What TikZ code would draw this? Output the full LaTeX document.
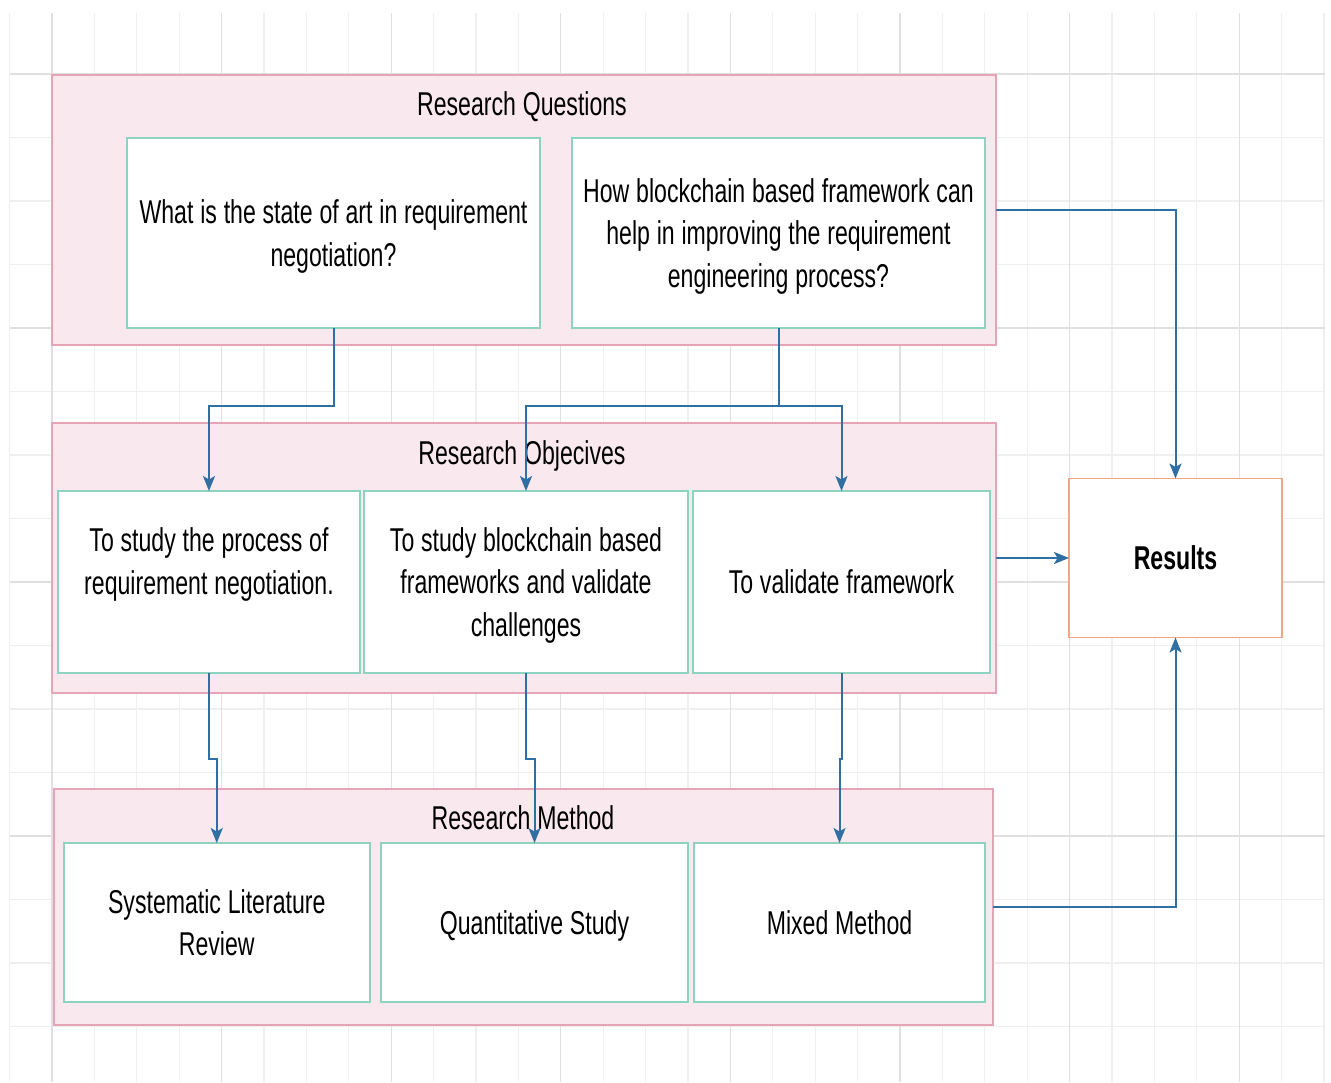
\documentclass[tikz,border=0pt]{standalone}
\usepackage{fontspec}
\setmainfont{Liberation Sans}[FakeStretch=0.70]
\usetikzlibrary{arrows.meta}

\definecolor{gridminor}{HTML}{EFEFEF}
\definecolor{gridmajor}{HTML}{E0E0E0}
\definecolor{groupfill}{HTML}{F9E8EE}
\definecolor{groupline}{HTML}{E6A4B7}
\definecolor{itemline}{HTML}{8DD3BF}
\definecolor{linkblue}{HTML}{2F6FA2}
\definecolor{resultline}{HTML}{F5A582}

\newcommand{\labelfont}{\fontsize{33}{42.5}\selectfont}

\begin{document}
\begin{tikzpicture}[x=1pt,y=-1pt,
  every node/.style={inner sep=0pt, outer sep=0pt},
  group/.style={rectangle, draw=groupline, fill=groupfill, line width=2pt},
  item/.style={rectangle, draw=itemline, fill=white, line width=2pt},
  result/.style={rectangle, draw=resultline, fill=white, line width=1.8pt},
  % centred label; word space narrowed to suit the condensed face
  txt/.style={anchor=base, text width=600pt, font=\labelfont,
    execute at begin node={\centering\spaceskip=6.8pt plus 1pt minus 1pt\relax}},
  boldtxt/.style={txt, font=\labelfont\bfseries},
  link/.style={draw=linkblue, line width=2pt,
    -{Stealth[length=15pt,width=12pt,inset=3.5pt]}},
  plain link/.style={draw=linkblue, line width=2pt},
]

% canvas and grid
\fill[white] (0,0) rectangle (1331,1082);
\useasboundingbox (0,0) rectangle (1331,1082);
\foreach \k in {0,...,31}
  \draw[gridminor, line width=1.3pt] ({9.6+42.4*\k},13) -- ({9.6+42.4*\k},1082);
\foreach \j in {1,...,16}
  \draw[gridminor, line width=1.3pt] (9.6,{10.5+63.5*\j}) -- (1325,{10.5+63.5*\j});
\foreach \k in {1,5,...,29}
  \draw[gridmajor, line width=1.3pt] ({9.6+42.4*\k},13) -- ({9.6+42.4*\k},1082);
\foreach \j in {1,5,9,13}
  \draw[gridmajor, line width=1.3pt] (9.6,{10.5+63.5*\j}) -- (1325,{10.5+63.5*\j});

% group containers
\node[group, minimum width=944pt, minimum height=270pt] (rq) at (524,210) {};
\node[group, minimum width=944pt, minimum height=270pt] (ro) at (524,558) {};
\node[group, minimum width=939pt, minimum height=236pt] (rm) at (523.5,907) {};

\node[txt] (rq-title) at (522,115.8) {Research Questions};
\node[txt] (ro-title) at (522,464.8) {Research Objecives};
\node[txt] (rm-title) at (523,829.8) {Research Method};

% research questions
\node[item, minimum width=413pt, minimum height=190pt] (q1) at (333.5,233) {};
\node[item, minimum width=413pt, minimum height=190pt] (q2) at (778.5,233) {};
\node[txt] (q1-text) at (333.5,223.5)
  {What is the state of art in requirement\\negotiation?};
\node[txt] (q2-text) at (778.5,202.3)
  {How blockchain based framework can\\help in improving the requirement\\engineering process?};

% research objectives
\node[item, minimum width=302pt, minimum height=182pt] (o1) at (209,582) {};
\node[item, minimum width=324pt, minimum height=182pt] (o2) at (526,582) {};
\node[item, minimum width=297pt, minimum height=182pt] (o3) at (841.5,582) {};
\node[txt] (o1-text) at (209,551.8)
  {To study the process of\\requirement negotiation.};
\node[txt] (o2-text) at (526,551.3)
  {To study blockchain based\\frameworks and validate\\challenges};
\node[txt] (o3-text) at (841.5,593.8) {To validate framework};

% research methods
\node[item, minimum width=306.5pt, minimum height=159pt] (slr) at (216.75,922.5) {};
\node[item, minimum width=307pt, minimum height=159pt] (qs) at (534.5,922.5) {};
\node[item, minimum width=291pt, minimum height=159pt] (mm) at (839.5,922.5) {};
\node[txt] (slr-text) at (216.75,913) {Systematic Literature\\Review};
\node[txt] (qs-text) at (534.5,934.3) {Quantitative Study};
\node[txt] (mm-text) at (839.5,934.3) {Mixed Method};

% results
\node[result, minimum width=213pt, minimum height=159pt] (res) at (1175.5,558) {};
\node[boldtxt] (res-text) at (1175.5,569.8) {Results};

% questions to objectives
\draw[link] (q1.south) -- ++(0,78) -| (o1.north);
\draw[plain link] (q2.south) -- ++(0,78) coordinate (split);
\draw[link] (split) -| (o2.north);
\draw[link] (split) -| (o3.north);

% objectives to methods
\draw[link] (o1.south) -- ++(0,86) -| (slr.north);
\draw[link] (o2.south) -- ++(0,86) -| (qs.north);
\draw[link] (o3.south) -- ++(0,86) -| (mm.north);

% groups to results
\draw[link] (rq.east) -| (res.north);
\draw[link] (ro.east) -- (res.west);
\draw[link] (rm.east) -| (res.south);

\end{tikzpicture}
\end{document}
